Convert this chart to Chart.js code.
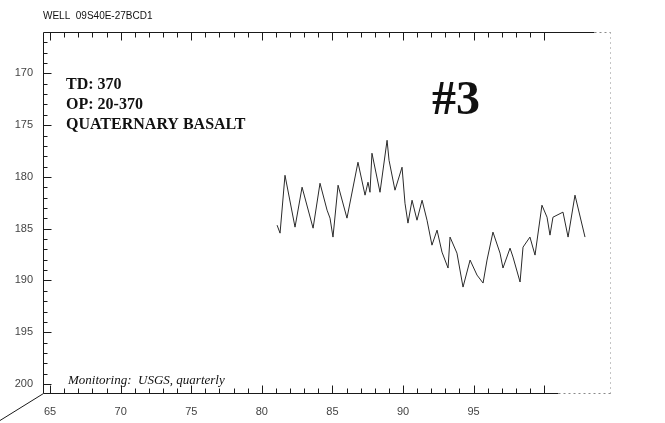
<!DOCTYPE html>
<html>
<head>
<meta charset="utf-8">
<script src="https://cdn.jsdelivr.net/npm/chart.js@4"></script>
<style>
  html, body { margin: 0; padding: 0; background: #fff; }
</style>
</head>
<body>
<canvas id="well-chart" width="665" height="423"></canvas>
<script>
// niveaux d'eau (année 19xx, profondeur en pieds)
const years = [81.08, 81.29, 81.64, 82.35, 82.85, 83.63, 84.12, 84.62, 84.83, 85.04,
  85.40, 86.03, 86.81, 87.31, 87.52, 87.66, 87.80, 88.37, 88.87, 89.01,
  89.43, 89.93, 90.14, 90.35, 90.64, 90.99, 91.35, 91.70, 92.05, 92.41,
  92.76, 93.19, 93.33, 93.82, 94.25, 94.75, 95.24, 95.67, 95.95, 96.37,
  96.87, 97.08, 97.58, 97.79, 98.29, 98.50, 98.99, 99.35, 99.84, 100.20,
  100.41, 100.62, 101.33, 101.69, 102.18, 102.89];
const depths = [184.66, 185.43, 179.84, 184.85, 180.99, 184.95, 180.61, 183.21, 183.98, 185.81,
  180.80, 183.98, 178.58, 181.76, 180.51, 181.48, 177.71, 181.48, 176.46, 178.39,
  181.28, 179.06, 182.54, 184.46, 182.25, 184.18, 182.25, 184.18, 186.59, 185.14,
  187.26, 188.80, 185.81, 187.36, 190.64, 188.03, 189.48, 190.25, 188.03, 185.33,
  187.36, 188.80, 186.88, 187.74, 190.15, 186.78, 185.81, 187.55, 182.73, 183.89,
  185.62, 183.89, 183.40, 185.81, 181.76, 185.81];

const yTickValues = [170, 175, 180, 185, 190, 195, 200];
const xTickValues = [65, 70, 75, 80, 85, 90, 95];

const wellName = "WELL  09S40E-27BCD1";
const infoLines = ["TD: 370", "OP: 20-370", "QUATERNARY BASALT"];
const plotNumber = "#3";
const monitoringNote = "Monitoring:  USGS, quarterly";

const points = years.map((yr, i) => ({ x: yr, y: depths[i] }));

// cadre, graduations vers l'intérieur et textes
const framePlugin = {
  id: 'framePlugin',
  afterDraw(chart) {
    const { ctx, chartArea: a, scales: { x, y } } = chart;
    ctx.save();
    ctx.strokeStyle = '#1a1a1a';
    ctx.lineWidth = 1;

    const seg = (x1, y1, x2, y2) => {
      ctx.beginPath();
      ctx.moveTo(x1, y1);
      ctx.lineTo(x2, y2);
      ctx.stroke();
    };

    const L = Math.round(a.left) + 0.5;
    const T = Math.round(a.top) + 0.5;
    const B = Math.round(a.bottom) + 0.5;
    const R = Math.round(a.right) + 0.5;
    const topEnd = Math.round(x.getPixelForValue(103.5)) + 0.5;
    const bottomEnd = Math.round(x.getPixelForValue(101)) + 0.5;

    seg(L, T, topEnd, T);
    seg(L, T, L, B);
    seg(L, B, bottomEnd, B);

    // trait parasite du scan en bas à gauche
    seg(L, B, 0, B + 27);

    for (let v = 167; v <= 200; v++) {
      const py = Math.round(y.getPixelForValue(v)) + 0.5;
      seg(L, py, L + (v % 5 === 0 ? 8 : 4), py);
    }
    for (let v = 65; v <= 100; v++) {
      const px = Math.round(x.getPixelForValue(v)) + 0.5;
      const len = v % 5 === 0 ? 8 : 5;
      seg(px, B, px, B - len);
      seg(px, T, px, T + len);
    }

    // fin des axes et axe de droite, à peine visibles
    ctx.strokeStyle = '#8a8a8a';
    ctx.setLineDash([2, 3]);
    seg(topEnd, T, R, T);
    seg(bottomEnd, B, R, B);
    ctx.setLineDash([1, 4]);
    seg(R, T, R, B);
    ctx.setLineDash([]);

    ctx.fillStyle = '#111';
    ctx.textBaseline = 'middle';
    ctx.font = '10px "Liberation Sans", sans-serif';
    ctx.fillText(wellName, a.left, 16);

    ctx.font = 'bold 16px "Liberation Serif", serif';
    infoLines.forEach((t, i) => ctx.fillText(t, a.left + 23, 85 + i * 20));

    ctx.font = 'bold 48px "Liberation Serif", serif';
    ctx.fillText(plotNumber, 432, 102);

    ctx.font = 'italic 13px "Liberation Serif", serif';
    ctx.fillText(monitoringNote, a.left + 25, 381);
    ctx.restore();
  }
};

new Chart(document.getElementById('well-chart').getContext('2d'), {
  type: 'line',
  data: {
    datasets: [{
      data: points,
      borderColor: '#2a2a2a',
      borderWidth: 1,
      pointRadius: 0,
      fill: false,
      tension: 0,
    }]
  },
  options: {
    responsive: false,
    animation: false,
    layout: { padding: { top: 32, right: 55, left: 0, bottom: 0 } },
    plugins: {
      legend: { display: false },
      tooltip: { enabled: false },
    },
    scales: {
      x: {
        type: 'linear',
        min: 64.5,
        max: 104.66,
        grid: { display: false, drawTicks: false },
        border: { display: false },
        afterBuildTicks: s => { s.ticks = xTickValues.map(v => ({ value: v })); },
        afterFit: s => { s.height = 30; },
        ticks: {
          padding: 12,
          color: '#444',
          font: { family: '"Liberation Sans", sans-serif', size: 11 },
          callback: v => String(v),
        },
      },
      y: {
        type: 'linear',
        reverse: true,
        min: 166,
        max: 200.87,
        grid: { display: false, drawTicks: false },
        border: { display: false },
        afterBuildTicks: s => { s.ticks = yTickValues.map(v => ({ value: v })); },
        afterFit: s => { s.width = 43; },
        ticks: {
          padding: 10,
          color: '#444',
          font: { family: '"Liberation Sans", sans-serif', size: 11 },
          callback: v => String(v),
        },
      }
    }
  },
  plugins: [framePlugin]
});
</script>
</body>
</html>
